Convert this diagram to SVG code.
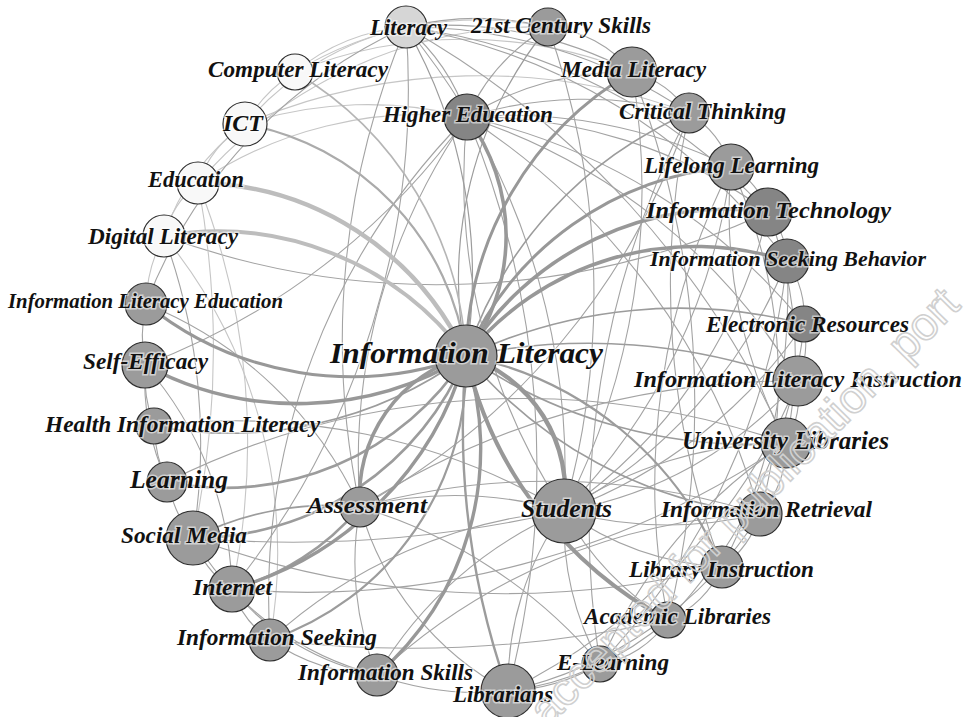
<svg xmlns="http://www.w3.org/2000/svg" width="968" height="717" viewBox="0 0 968 717">
<style>
.bg{fill:#ffffff}
#edges path{fill:none;stroke-linecap:round}
.t{stroke:#a3a3a3;stroke-width:1.1}
.tl{stroke:#c6c6c6;stroke-width:1.1}
.m{stroke:#9c9c9c;stroke-width:1.6}
.k{stroke:#989898;stroke-width:3.6}
.kl{stroke:#bdbdbd;stroke-width:4.5}
circle{stroke:#2e2e2e;stroke-width:1.2}
.w{fill:#f8f8f8}
.lt{fill:#d6d6d6}
.g{fill:#9b9b9b}
.d{fill:#858585}
text{font-family:"Liberation Serif","Times New Roman",serif;font-weight:bold;font-style:italic;font-size:23px;fill:#111;stroke:#ffffff;stroke-width:3;stroke-opacity:0.55;paint-order:stroke fill}
.wm{font-family:"Liberation Sans",Arial,sans-serif;font-style:normal;font-weight:normal;font-size:46px;fill:none;stroke:#d0d0d0;stroke-width:1.6;stroke-opacity:1}
</style>
<rect class="bg" x="0" y="0" width="968" height="717"/>
<g id="edges">
<path class="tl" d="M295,72 A200,200 0 0 1 406,27"/>
<path class="tl" d="M295,72 A350,350 0 0 1 548,27"/>
<path class="tl" d="M295,72 A450,450 0 0 1 632,72"/>
<path class="tl" d="M245,124 A150,150 0 0 1 295,72"/>
<path class="tl" d="M245,124 A400,400 0 0 1 467,117"/>
<path class="tl" d="M245,124 A300,300 0 0 1 406,27"/>
<path class="tl" d="M245,124 A600,600 0 0 1 689,113"/>
<path class="tl" d="M198,183 A400,400 0 0 1 467,117"/>
<path class="tl" d="M198,183 A450,450 0 0 1 548,27"/>
<path class="tl" d="M198,183 A120,120 0 0 1 245,124"/>
<path class="tl" d="M164,236 A100,100 0 0 1 198,183"/>
<path class="tl" d="M164,236 A220,220 0 0 1 245,124"/>
<path class="tl" d="M164,236 A150,150 0 0 0 146,304"/>
<path class="t" d="M164,236 A790,790 0 0 0 768,212"/>
<path class="tl" d="M164,236 A500,500 0 0 1 270,640"/>
<path class="tl" d="M198,183 A700,700 0 0 1 232,589"/>
<path class="tl" d="M198,183 A900,900 0 0 1 193,538"/>
<path class="t" d="M146,304 A150,150 0 0 0 145,365"/>
<path class="t" d="M145,365 A150,150 0 0 0 154,426"/>
<path class="t" d="M145,365 A250,250 0 0 0 167,482"/>
<path class="t" d="M145,365 A350,350 0 0 1 232,589"/>
<path class="t" d="M145,365 A700,700 0 0 0 467,117"/>
<path class="t" d="M146,304 A400,400 0 0 1 360,507"/>
<path class="t" d="M146,304 A500,500 0 0 1 406,27"/>
<path class="t" d="M154,426 A150,150 0 0 0 167,482"/>
<path class="t" d="M154,426 A645,645 0 0 1 564,511"/>
<path class="t" d="M167,482 A150,150 0 0 0 193,538"/>
<path class="t" d="M167,482 A800,800 0 0 1 786,443"/>
<path class="m" d="M193,538 A300,300 0 0 1 360,507"/>
<path class="t" d="M193,538 A100,100 0 0 0 232,589"/>
<path class="t" d="M193,538 A300,300 0 0 0 377,675"/>
<path class="t" d="M193,538 A1200,1200 0 0 0 564,511"/>
<path class="t" d="M193,538 A600,600 0 0 0 164,236"/>
<path class="t" d="M232,589 A100,100 0 0 0 270,640"/>
<path class="t" d="M232,589 A250,250 0 0 0 377,675"/>
<path class="m" d="M232,589 A250,250 0 0 0 360,507" style="stroke-width:2.6"/>
<path class="t" d="M232,589 A845,845 0 0 0 786,443"/>
<path class="t" d="M232,589 A800,800 0 0 0 406,27"/>
<path class="t" d="M270,640 A200,200 0 0 0 377,675"/>
<path class="t" d="M270,640 A1200,1200 0 0 0 668,620"/>
<path class="t" d="M270,640 A500,500 0 0 1 564,511"/>
<path class="t" d="M270,640 A680,680 0 0 1 467,117"/>
<path class="t" d="M377,675 A300,300 0 0 0 508,691"/>
<path class="t" d="M377,675 A400,400 0 0 1 564,511"/>
<path class="t" d="M377,675 A300,300 0 0 1 360,507"/>
<path class="t" d="M377,675 A600,600 0 0 1 760,514"/>
<path class="t" d="M508,691 A300,300 0 0 1 564,511"/>
<path class="t" d="M508,691 A200,200 0 0 0 600,664"/>
<path class="t" d="M508,691 A300,300 0 0 0 668,620"/>
<path class="t" d="M508,691 A300,300 0 0 1 360,507"/>
<path class="t" d="M508,691 A600,600 0 0 0 798,381"/>
<path class="t" d="M508,691 A900,900 0 0 0 467,117"/>
<path class="t" d="M508,691 A400,400 0 0 0 760,514"/>
<path class="t" d="M600,664 A300,300 0 0 1 564,511"/>
<path class="t" d="M600,664 A100,100 0 0 0 668,620"/>
<path class="t" d="M600,664 A500,500 0 0 1 786,443"/>
<path class="t" d="M600,664 A900,900 0 0 1 689,113"/>
<path class="t" d="M600,664 A500,500 0 0 0 360,507"/>
<path class="t" d="M668,620 A300,300 0 0 1 564,511"/>
<path class="t" d="M668,620 A100,100 0 0 0 722,567"/>
<path class="t" d="M668,620 A700,700 0 0 1 731,167"/>
<path class="t" d="M668,620 A900,900 0 0 0 632,72"/>
<path class="t" d="M722,567 A300,300 0 0 1 564,511"/>
<path class="t" d="M722,567 A100,100 0 0 0 760,514"/>
<path class="t" d="M722,567 A800,800 0 0 1 689,113"/>
<path class="t" d="M722,567 A900,900 0 0 1 193,538"/>
<path class="t" d="M760,514 A400,400 0 0 1 564,511"/>
<path class="t" d="M760,514 A100,100 0 0 0 786,443"/>
<path class="t" d="M760,514 A700,700 0 0 0 467,117"/>
<path class="t" d="M760,514 A700,700 0 0 0 360,507"/>
<path class="t" d="M786,443 A400,400 0 0 0 564,511"/>
<path class="t" d="M786,443 A100,100 0 0 0 798,381"/>
<path class="t" d="M786,443 A500,500 0 0 1 731,167"/>
<path class="t" d="M786,443 A900,900 0 0 0 406,27"/>
<path class="t" d="M798,381 A400,400 0 0 1 564,511"/>
<path class="t" d="M798,381 A100,100 0 0 0 804,324"/>
<path class="t" d="M798,381 A800,800 0 0 0 360,507"/>
<path class="t" d="M798,381 A600,600 0 0 0 467,117"/>
<path class="t" d="M804,324 A500,500 0 0 1 564,511"/>
<path class="t" d="M804,324 A100,100 0 0 0 787,261"/>
<path class="t" d="M804,324 A600,600 0 0 0 467,117"/>
<path class="t" d="M804,324 A500,500 0 0 1 668,620"/>
<path class="t" d="M787,261 A500,500 0 0 1 564,511"/>
<path class="t" d="M787,261 A80,80 0 0 0 768,212"/>
<path class="t" d="M787,261 A600,600 0 0 1 722,567"/>
<path class="t" d="M787,261 A600,600 0 0 0 406,27"/>
<path class="t" d="M787,261 A700,700 0 0 1 600,664"/>
<path class="t" d="M768,212 A80,80 0 0 0 731,167"/>
<path class="t" d="M768,212 A500,500 0 0 1 564,511"/>
<path class="t" d="M768,212 A500,500 0 0 0 467,117"/>
<path class="t" d="M768,212 A400,400 0 0 1 786,443"/>
<path class="t" d="M768,212 A600,600 0 0 0 406,27"/>
<path class="t" d="M731,167 A100,100 0 0 0 689,113"/>
<path class="t" d="M731,167 A600,600 0 0 1 564,511"/>
<path class="t" d="M731,167 A500,500 0 0 0 467,117"/>
<path class="t" d="M731,167 A500,500 0 0 1 760,514"/>
<path class="t" d="M689,113 A100,100 0 0 0 632,72"/>
<path class="t" d="M689,113 A700,700 0 0 1 360,507"/>
<path class="t" d="M689,113 A500,500 0 0 0 406,27"/>
<path class="t" d="M689,113 A400,400 0 0 0 467,117"/>
<path class="t" d="M632,72 A120,120 0 0 0 548,27"/>
<path class="t" d="M632,72 A700,700 0 0 1 564,511"/>
<path class="t" d="M632,72 A400,400 0 0 0 406,27"/>
<path class="t" d="M632,72 A300,300 0 0 0 467,117"/>
<path class="t" d="M548,27 A300,300 0 0 0 406,27"/>
<path class="t" d="M548,27 A800,800 0 0 1 564,511"/>
<path class="t" d="M548,27 A200,200 0 0 0 467,117"/>
<path class="t" d="M406,27 A800,800 0 0 0 360,507"/>
<path class="t" d="M406,27 A700,700 0 0 1 564,511"/>
<path class="t" d="M406,27 A200,200 0 0 1 467,117"/>
<path class="t" d="M467,117 A600,600 0 0 0 564,511"/>
<path class="t" d="M467,117 A600,600 0 0 0 360,507"/>
<path class="t" d="M360,507 A400,400 0 0 1 564,511"/>
<path class="m" d="M406,27 A500,500 0 0 1 466,356" style="stroke-width:1.2"/>
<path class="m" d="M548,27 A400,400 0 0 0 466,356" style="stroke-width:1.2"/>
<path class="m" d="M689,113 A400,400 0 0 0 466,356"/>
<path class="m" d="M295,72 A350,350 0 0 1 466,356" style="stroke:#b5b5b5"/>
<path class="m" d="M245,124 A272,272 0 0 1 466,356" style="stroke:#ababab;stroke-width:2.2"/>
<path class="m" d="M154,426 A400,400 0 0 0 466,356"/>
<path class="m" d="M466,356 A450,450 0 0 0 760,514"/>
<path class="m" d="M466,356 A500,500 0 0 0 786,443"/>
<path class="m" d="M466,356 A600,600 0 0 1 798,381"/>
<path class="m" d="M466,356 A500,500 0 0 1 804,324"/>
<path class="m" d="M466,356 A350,350 0 0 1 722,567" style="stroke-width:2.2"/>
<path class="m" d="M466,356 A800,800 0 0 0 508,691" style="stroke-width:2.4"/>
<path class="m" d="M270,640 A290,290 0 0 0 466,356" style="stroke-width:2.2"/>
<path class="m" d="M167,482 A287,287 0 0 0 466,356" style="stroke-width:2.6"/>
<path class="m" d="M193,538 A294,294 0 0 0 466,356" style="stroke-width:2.6"/>
<path class="kl" d="M198,183 A300,300 0 0 1 466,356"/>
<path class="kl" d="M164,236 A310,310 0 0 1 466,356" style="stroke-width:4"/>
<path class="k" d="M467,117 A200,200 0 0 1 466,356"/>
<path class="k" d="M632,72 A336,336 0 0 0 466,356" style="stroke-width:3"/>
<path class="k" d="M466,356 A316,316 0 0 1 731,167" style="stroke-width:3"/>
<path class="k" d="M466,356 A305,305 0 0 1 768,212"/>
<path class="k" d="M466,356 A295,295 0 0 1 787,261"/>
<path class="k" d="M145,365 A321,321 0 0 0 466,356"/>
<path class="k" d="M146,304 A327,327 0 0 0 466,356" style="stroke-width:3"/>
<path class="k" d="M360,507 A145,145 0 0 1 466,356"/>
<path class="k" d="M232,589 A338,338 0 0 0 466,356" style="stroke-width:3.4"/>
<path class="k" d="M377,675 A299,299 0 0 0 466,356" style="stroke-width:3.4"/>
<path class="k" d="M466,356 A143,143 0 0 1 564,511" style="stroke-width:4.4"/>
<path class="k" d="M466,356 A400,400 0 0 0 668,620" style="stroke-width:4"/>
</g>
<g id="node-literacy"><circle class="lt" cx="406" cy="27" r="21"/><text x="370" y="35" textLength="77" lengthAdjust="spacingAndGlyphs">Literacy</text></g>
<g id="node-21st-century-skills"><circle class="g" cx="548" cy="27" r="19"/><text x="471" y="33" textLength="180" lengthAdjust="spacingAndGlyphs">21st Century Skills</text></g>
<g id="node-computer-literacy"><circle class="w" cx="295" cy="72" r="18"/><text x="208" y="77" textLength="180" lengthAdjust="spacingAndGlyphs">Computer Literacy</text></g>
<g id="node-media-literacy"><circle class="g" cx="632" cy="72" r="25"/><text x="561" y="77" textLength="145" lengthAdjust="spacingAndGlyphs">Media Literacy</text></g>
<g id="node-ict"><circle class="w" cx="245" cy="124" r="22"/><text x="223" y="131" textLength="40" lengthAdjust="spacingAndGlyphs">ICT</text></g>
<g id="node-higher-education"><circle class="d" cx="467" cy="117" r="23"/><text x="383" y="122" textLength="170" lengthAdjust="spacingAndGlyphs">Higher Education</text></g>
<g id="node-critical-thinking"><circle class="g" cx="689" cy="113" r="20"/><text x="619" y="119" textLength="167" lengthAdjust="spacingAndGlyphs">Critical Thinking</text></g>
<g id="node-education"><circle class="w" cx="198" cy="183" r="21"/><text x="148" y="187" textLength="96" lengthAdjust="spacingAndGlyphs">Education</text></g>
<g id="node-lifelong-learning"><circle class="g" cx="731" cy="167" r="23"/><text x="644" y="173" textLength="175" lengthAdjust="spacingAndGlyphs">Lifelong Learning</text></g>
<g id="node-information-technology"><circle class="d" cx="768" cy="212" r="24"/><text x="646" y="218" textLength="245" lengthAdjust="spacingAndGlyphs" style="font-size:24px">Information Technology</text></g>
<g id="node-digital-literacy"><circle class="w" cx="164" cy="236" r="21"/><text x="88" y="244" textLength="150" lengthAdjust="spacingAndGlyphs">Digital Literacy</text></g>
<g id="node-information-seeking-behavior"><circle class="d" cx="787" cy="261" r="22"/><text x="650" y="266" textLength="276" lengthAdjust="spacingAndGlyphs" style="font-size:22px">Information Seeking Behavior</text></g>
<g id="node-information-literacy-education"><circle class="g" cx="146" cy="304" r="21"/><text x="8" y="308" textLength="275" lengthAdjust="spacingAndGlyphs" style="font-size:21px">Information Literacy Education</text></g>
<g id="node-electronic-resources"><circle class="d" cx="804" cy="324" r="18"/><text x="706" y="332" textLength="203" lengthAdjust="spacingAndGlyphs">Electronic Resources</text></g>
<g id="node-self-efficacy"><circle class="g" cx="145" cy="365" r="23"/><text x="83" y="369" textLength="125" lengthAdjust="spacingAndGlyphs">Self-Efficacy</text></g>
<g id="node-information-literacy-instruction"><circle class="g" cx="798" cy="381" r="25"/><text x="634" y="387" textLength="328" lengthAdjust="spacingAndGlyphs" style="font-size:24px">Information Literacy Instruction</text></g>
<g id="node-health-information-literacy"><circle class="g" cx="154" cy="426" r="18"/><text x="45" y="432" textLength="275" lengthAdjust="spacingAndGlyphs">Health Information Literacy</text></g>
<g id="node-university-libraries"><circle class="g" cx="786" cy="443" r="25"/><text x="682" y="449" textLength="207" lengthAdjust="spacingAndGlyphs" style="font-size:25px">University Libraries</text></g>
<g id="node-learning"><circle class="g" cx="167" cy="482" r="20"/><text x="130" y="488" textLength="98" lengthAdjust="spacingAndGlyphs" style="font-size:25px">Learning</text></g>
<g id="node-assessment"><circle class="g" cx="360" cy="507" r="20"/><text x="307" y="513" textLength="120" lengthAdjust="spacingAndGlyphs" style="font-size:24px">Assessment</text></g>
<g id="node-students"><circle class="g" cx="564" cy="511" r="32"/><text x="521" y="517" textLength="91" lengthAdjust="spacingAndGlyphs" style="font-size:25px">Students</text></g>
<g id="node-information-retrieval"><circle class="g" cx="760" cy="514" r="22"/><text x="661" y="517" textLength="211" lengthAdjust="spacingAndGlyphs">Information Retrieval</text></g>
<g id="node-social-media"><circle class="g" cx="193" cy="538" r="27"/><text x="121" y="543" textLength="126" lengthAdjust="spacingAndGlyphs">Social Media</text></g>
<g id="node-library-instruction"><circle class="g" cx="722" cy="567" r="21"/><text x="629" y="577" textLength="185" lengthAdjust="spacingAndGlyphs">Library Instruction</text></g>
<g id="node-internet"><circle class="g" cx="232" cy="589" r="23"/><text x="193" y="595" textLength="79" lengthAdjust="spacingAndGlyphs">Internet</text></g>
<g id="node-academic-libraries"><circle class="g" cx="668" cy="620" r="18"/><text x="584" y="624" textLength="187" lengthAdjust="spacingAndGlyphs">Academic Libraries</text></g>
<g id="node-information-seeking"><circle class="g" cx="270" cy="640" r="21"/><text x="177" y="645" textLength="200" lengthAdjust="spacingAndGlyphs">Information Seeking</text></g>
<g id="node-e-learning"><circle class="g" cx="600" cy="664" r="18"/><text x="557" y="670" textLength="112" lengthAdjust="spacingAndGlyphs">E-Learning</text></g>
<g id="node-information-skills"><circle class="g" cx="377" cy="675" r="21"/><text x="298" y="680" textLength="175" lengthAdjust="spacingAndGlyphs">Information Skills</text></g>
<g id="node-librarians"><circle class="g" cx="508" cy="691" r="27"/><text x="453" y="702" textLength="100" lengthAdjust="spacingAndGlyphs">Librarians</text></g>
<g id="node-information-literacy"><circle class="g" cx="466" cy="356" r="31"/><text x="330" y="363" textLength="273" lengthAdjust="spacingAndGlyphs" style="font-size:30px">Information Literacy</text></g>
<text class="wm" x="548" y="728" transform="rotate(-45.5 548 728)">accepted for publication, port</text>
</svg>
